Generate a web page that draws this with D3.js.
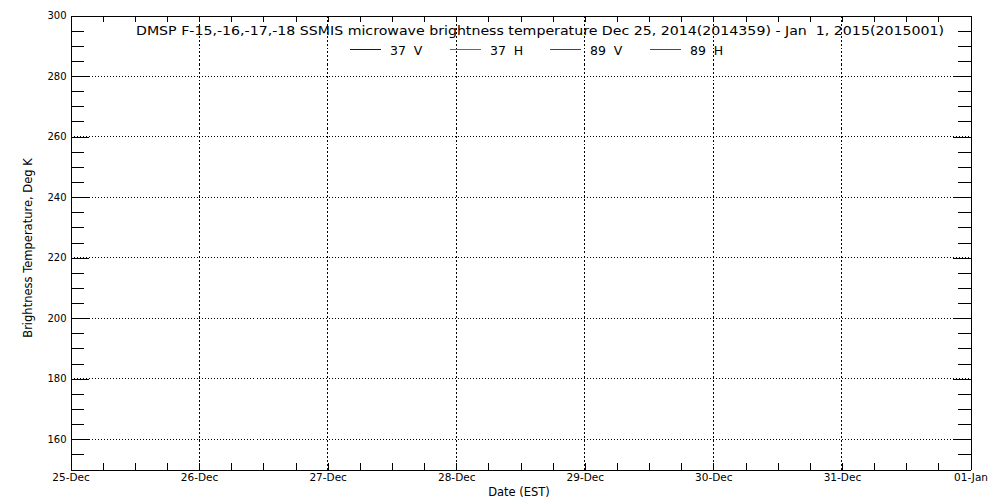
<!DOCTYPE html>
<html>
<head>
<meta charset="utf-8">
<script src="https://cdn.jsdelivr.net/npm/d3@7"></script>
<style>
  body { margin: 0; background: #fff; }
  svg { display: block; }
  text { font-family: "DejaVu Sans", sans-serif; fill: #000; }
  .domain, .tick line { stroke: #000; shape-rendering: crispEdges; }
  .grid line { stroke: #000; shape-rendering: crispEdges; }
</style>
</head>
<body>
<div id="chart-area"></div>
<script>
// days shown on the x axis
var days = ["2014-12-25", "2014-12-26", "2014-12-27", "2014-12-28",
            "2014-12-29", "2014-12-30", "2014-12-31", "2015-01-01"];
// channels in the legend
var channels = ["37 V", "37 H", "89 V", "89 H"];
var channelColors = ["#0000dd", "#0a7cf0", "#e60000", "#b000c0"];
// brightness temperatures per channel (no passes in this window)
var tb37V = [];
var tb37H = [];
var tb89V = [];
var tb89H = [];
var series = [tb37V, tb37H, tb89V, tb89H];
// y axis
var yMajor = [160, 180, 200, 220, 240, 260, 280, 300];
var yDomain = [150, 300];

var title = "DMSP F-15,-16,-17,-18 SSMIS microwave brightness temperature Dec 25, 2014(2014359) - Jan  1, 2015(2015001)";

var width = 1000, height = 500;
var pLeft = 70, pRight = 970, pTop = 15, pBottom = 469;

var parse = d3.timeParse("%Y-%m-%d");
var dayDates = days.map(parse);

var svg = d3.select("#chart-area").append("svg")
	.attr("width", width)
	.attr("height", height);

var x = d3.scaleTime()
	.domain([dayDates[0], dayDates[dayDates.length - 1]])
	.range([pLeft, pRight]);

var y = d3.scaleLinear()
	.domain(yDomain)
	.range([pBottom, pTop]);

var sixHours = d3.timeHour.every(6).range(dayDates[0], dayDates[dayDates.length - 1]).concat([dayDates[dayDates.length - 1]]);
var yMinor = d3.range(yDomain[0] + 5, yDomain[1], 5).filter(function(v){ return yMajor.indexOf(v) < 0; });

// grid lines
var g = svg.append("g").attr("class", "grid").attr("transform", "translate(0.5,0.5)");
g.selectAll(".hg").data(yMajor.filter(function(v){ return v < yDomain[1]; })).enter().append("line")
	.attr("x1", pLeft).attr("x2", pRight)
	.attr("y1", function(d){ return Math.round(y(d)); })
	.attr("y2", function(d){ return Math.round(y(d)); })
	.attr("stroke-dasharray", "1,2");
g.selectAll(".vg").data(dayDates.slice(1, -1)).enter().append("line")
	.attr("x1", function(d){ return Math.round(x(d)); })
	.attr("x2", function(d){ return Math.round(x(d)); })
	.attr("y1", pTop).attr("y2", pBottom)
	.attr("stroke-dasharray", "2,2");

// axes
var fmt = d3.timeFormat("%d-%b");
var xBottom = svg.append("g").attr("transform", "translate(0.5," + (pBottom + 0.5) + ")")
	.call(d3.axisBottom(x).tickValues(sixHours).tickSize(-7).tickSizeOuter(0)
		.tickFormat(function(d){ return d.getHours() === 0 ? fmt(d) : ""; }));
xBottom.selectAll("text").attr("dy", null).attr("y", 11).attr("font-size", 10.5);

svg.append("g").attr("transform", "translate(0.5," + (pTop + 0.5) + ")")
	.call(d3.axisTop(x).tickValues(sixHours).tickSize(-6).tickSizeOuter(0).tickFormat(""));

var yLeft = svg.append("g").attr("transform", "translate(" + (pLeft + 0.5) + ",0.5)")
	.call(d3.axisLeft(y).tickValues(yMajor).tickSize(-18).tickSizeOuter(0)
		.tickFormat(d3.format("d")));
yLeft.selectAll("text").attr("x", -4).attr("font-size", 10);
svg.append("g").attr("transform", "translate(" + (pLeft + 0.5) + ",0.5)")
	.call(d3.axisLeft(y).tickValues(yMinor).tickSize(-13).tickSizeOuter(0).tickFormat(""));

svg.append("g").attr("transform", "translate(" + (pRight + 0.5) + ",0.5)")
	.call(d3.axisRight(y).tickValues(yMajor).tickSize(-18).tickSizeOuter(0).tickFormat(""));
svg.append("g").attr("transform", "translate(" + (pRight + 0.5) + ",0.5)")
	.call(d3.axisRight(y).tickValues(yMinor).tickSize(-13).tickSizeOuter(0).tickFormat(""));

svg.selectAll(".domain").attr("fill", "none");

// data lines (empty)
var line = d3.line().x(function(d){ return x(d[0]); }).y(function(d){ return y(d[1]); });
svg.selectAll(".series").data(series).enter().append("path")
	.attr("fill", "none")
	.attr("stroke", function(d, i){ return channelColors[i]; })
	.attr("d", function(d){ return d.length ? line(d) : null; });

// title
svg.append("text")
	.attr("x", 136).attr("y", 35)
	.attr("font-size", 12.5)
	.attr("textLength", 808).attr("lengthAdjust", "spacingAndGlyphs")
	.style("white-space", "pre")
	.text(title);

// legend
var leg = svg.selectAll(".leg").data(channels).enter().append("g")
	.attr("transform", function(d, i){ return "translate(" + (350 + i * 100) + ",49.5)"; });
leg.append("line").attr("x1", 0).attr("x2", 31)
	.attr("stroke", function(d, i){ return channelColors[i]; })
	.style("shape-rendering", "crispEdges");
leg.append("text").attr("x", 40).attr("y", 5.5).attr("font-size", 12.5)
	.style("white-space", "pre")
	.text(function(d){ return d.replace(" ", "  "); });

// axis titles
svg.append("text").attr("x", 519).attr("y", 496).attr("text-anchor", "middle")
	.attr("font-size", 11.5).text("Date (EST)");
svg.append("text").attr("transform", "translate(32,248) rotate(-90)")
	.attr("text-anchor", "middle").attr("font-size", 11.5)
	.text("Brightness Temperature, Deg K");
</script>
</body>
</html>
